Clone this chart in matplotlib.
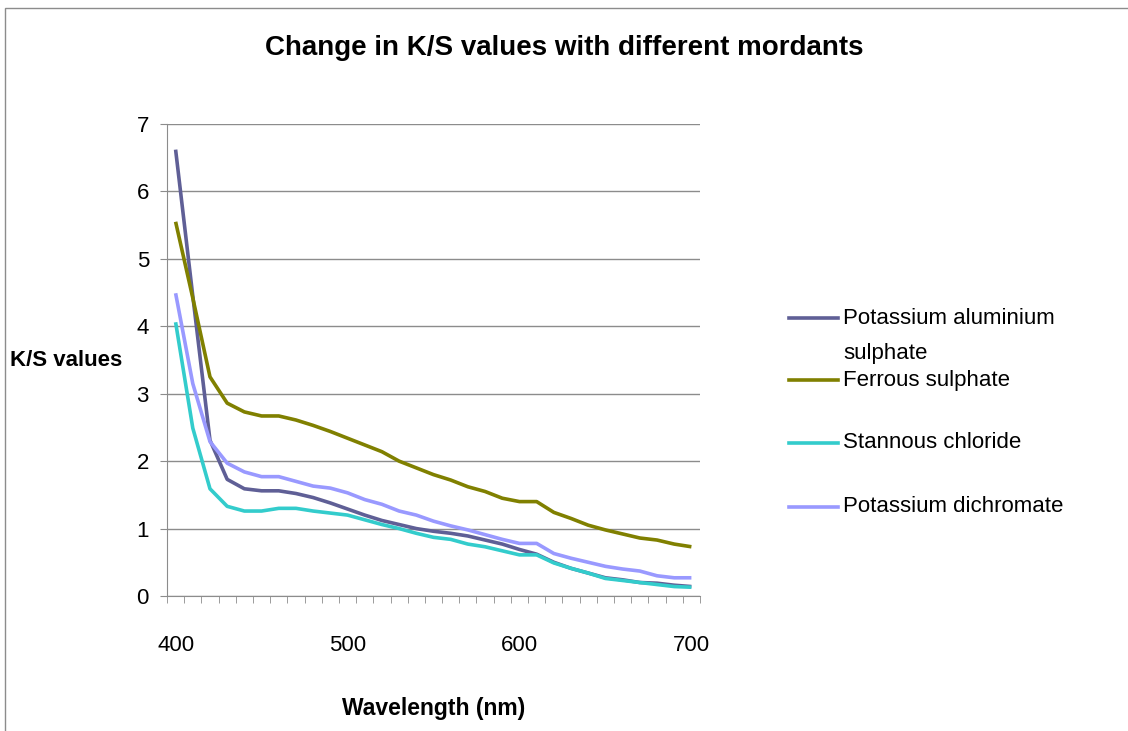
import matplotlib
matplotlib.use("Agg")
import matplotlib.pyplot as plt
from matplotlib.lines import Line2D
from matplotlib.patches import Rectangle

plt.rcParams["font.family"] = ["Liberation Sans Narrow", "Liberation Sans", "DejaVu Sans"]

wavelengths = list(range(400, 701, 10))

pot_alum = [6.62, 4.45, 2.31, 1.73, 1.59, 1.56, 1.56, 1.52, 1.46, 1.38, 1.29,
            1.20, 1.12, 1.06, 1.00, 0.96, 0.93, 0.89, 0.83, 0.77, 0.69,
            0.62, 0.50, 0.41, 0.34, 0.27, 0.24, 0.20, 0.19, 0.16, 0.14]
ferrous = [5.55, 4.42, 3.25, 2.86, 2.73, 2.67, 2.67, 2.61, 2.53, 2.44, 2.34,
           2.24, 2.14, 2.00, 1.90, 1.80, 1.72, 1.62, 1.55, 1.45, 1.40,
           1.40, 1.24, 1.15, 1.05, 0.98, 0.92, 0.86, 0.83, 0.77, 0.73]
stannous = [4.06, 2.49, 1.59, 1.33, 1.26, 1.26, 1.30, 1.30, 1.26, 1.23, 1.20,
            1.13, 1.06, 1.00, 0.93, 0.87, 0.84, 0.77, 0.73, 0.67, 0.61,
            0.61, 0.49, 0.41, 0.34, 0.26, 0.23, 0.20, 0.17, 0.14, 0.13]
dichromate = [4.49, 3.15, 2.29, 1.97, 1.84, 1.77, 1.77, 1.70, 1.63, 1.60, 1.53,
              1.43, 1.36, 1.26, 1.20, 1.11, 1.04, 0.98, 0.91, 0.84, 0.78,
              0.78, 0.63, 0.56, 0.50, 0.44, 0.40, 0.37, 0.30, 0.27, 0.27]

series = [
    ("Potassium aluminium\nsulphate", pot_alum, "#5f5f96"),
    ("Ferrous sulphate", ferrous, "#808000"),
    ("Stannous chloride", stannous, "#33cccc"),
    ("Potassium dichromate", dichromate, "#9999ff"),
]

W, H = 1128, 731
fig = plt.figure(figsize=(W / 100, H / 100), dpi=100)
ax = fig.add_axes([167 / W, 1 - 596 / H, (700 - 167) / W, (596 - 124) / H])

for label, vals, color in series:
    ax.plot(wavelengths, vals, color=color, lw=2.6, solid_capstyle="butt")

ax.set_xlim(395, 705)
ax.set_ylim(0, 7)
ax.set_yticks(range(0, 8))
ax.set_xticks([400, 500, 600, 700])
# category boundaries, like the tick marks of a category axis
ax.set_xticks([395 + 10 * k for k in range(32)], minor=True)
ax.grid(axis="y", color="#8c8c8c", lw=1)
ax.set_axisbelow(True)
for s in ["top", "right"]:
    ax.spines[s].set_visible(False)
for s in ["left", "bottom"]:
    ax.spines[s].set_color("#8c8c8c")
ax.tick_params(axis="y", length=5, color="#8c8c8c", pad=8, labelsize=16)
ax.tick_params(axis="x", which="major", length=0, pad=28, labelsize=16)
ax.tick_params(axis="x", which="minor", length=5, color="#8c8c8c")

ax.set_xlabel("Wavelength (nm)", fontsize=16.5, fontweight="bold", va="center")
ax.xaxis.set_label_coords(0.5, -(708 - 596) / 472)
ax.set_ylabel("K/S values", fontsize=16, fontweight="bold", rotation=0,
              ha="left", va="center")
ax.yaxis.set_label_coords(-(167 - 10) / 533, 0.5)

fig.text(0.5, 1 - 48 / H, "Change in K/S values with different mordants",
         ha="center", va="center", fontsize=20, fontweight="bold")

# legend drawn by hand so the handle sits on the first text line
rows = [318, 380, 443, 507]
for (label, vals, color), y in zip(series, rows):
    fig.add_artist(Line2D([789 / W, 838 / W], [1 - y / H, 1 - y / H],
                          color=color, lw=2.6, transform=fig.transFigure))
    for i, part in enumerate(label.split("\n")):
        fig.text(843 / W, 1 - (y + i * 35) / H, part, ha="left", va="center", fontsize=16)

# chart area border (cut off at right and bottom)
fig.add_artist(Rectangle((5 / W, -0.1), 1.2, 1 - 8 / H + 0.1, fill=False,
                         edgecolor="#8c8c8c", lw=1, transform=fig.transFigure))

fig.savefig("out.png", dpi=100)
